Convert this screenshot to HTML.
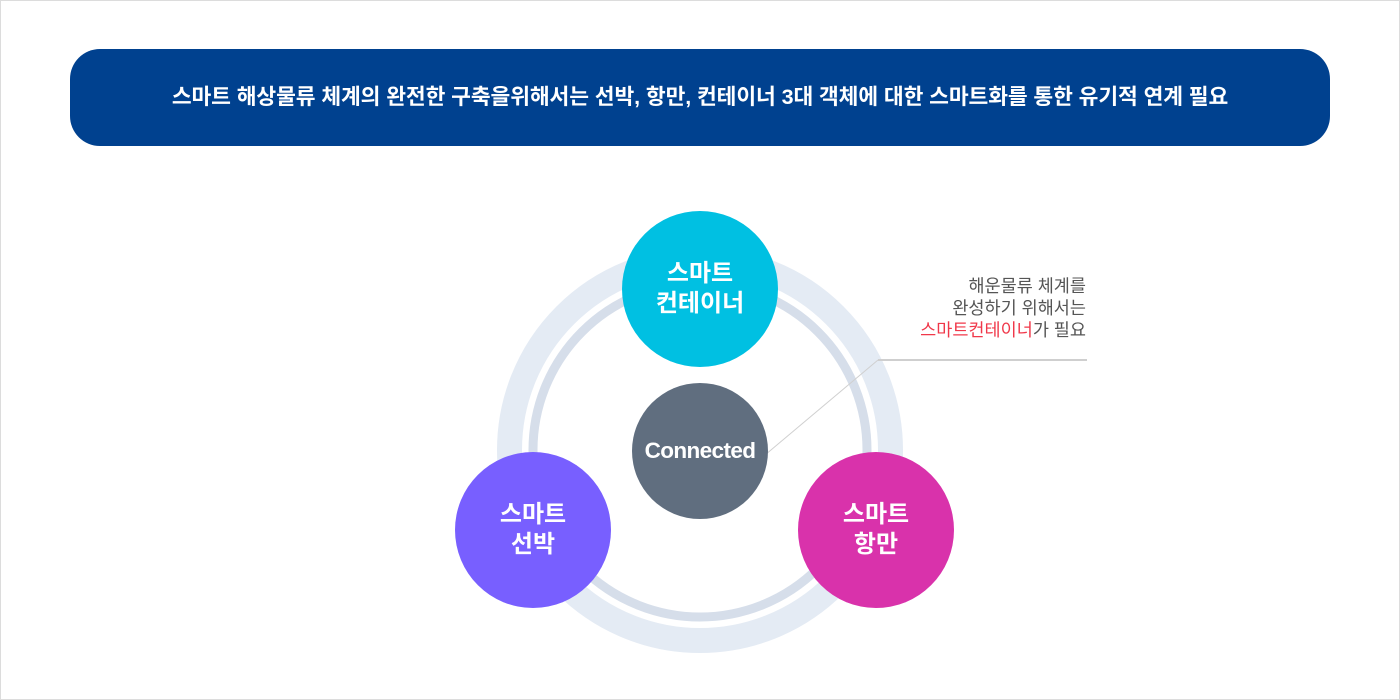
<!DOCTYPE html>
<html><head><meta charset="utf-8"><style>
html,body{margin:0;padding:0}
body{width:1400px;height:700px;position:relative;background:#fff;font-family:"Liberation Sans","Noto Sans CJK KR",sans-serif;overflow:hidden}
.frame{position:absolute;left:0;top:0;width:1398px;height:698px;border:1px solid #dcdcdc}
.banner{position:absolute;left:70px;top:49px;width:1260px;height:97px;background:#00418f;border-radius:30px;color:#fff;font-weight:bold;font-size:21.5px;text-align:center;line-height:97px;letter-spacing:-0.1px}
.c{position:absolute;border-radius:50%;color:#fff;font-weight:bold;display:flex;align-items:center;justify-content:center;text-align:center;font-size:24px;line-height:30px}
.note{position:absolute;right:314px;top:275px;text-align:right;font-size:17.5px;line-height:22px;color:#555;letter-spacing:0px}
</style></head><body>
<div class="frame"></div>
<div class="banner">스마트 해상물류 체계의 완전한 구축을위해서는 선박, 항만, 컨테이너 3대 객체에 대한 스마트화를 통한 유기적 연계 필요</div>
<svg width="1400" height="700" style="position:absolute;left:0;top:0">
<circle cx="700" cy="450" r="190.5" fill="none" stroke="#e4ebf4" stroke-width="25"/>
<circle cx="700" cy="450" r="167" fill="none" stroke="#d6deea" stroke-width="9"/>
<line x1="878" y1="360" x2="1087" y2="360" stroke="#cfcfcf" stroke-width="2"/>
<line x1="878" y1="360" x2="765" y2="455" stroke="#d0d0d0" stroke-width="1"/>
</svg>
<div class="c" style="left:622px;top:211px;width:156px;height:156px;background:#00c0e2">스마트<br>컨테이너</div>
<div class="c" style="left:455px;top:452px;width:156px;height:156px;background:#785fff">스마트<br>선박</div>
<div class="c" style="left:798px;top:452px;width:156px;height:156px;background:#d932ab">스마트<br>항만</div>
<div class="c" style="left:632px;top:383px;width:136px;height:136px;background:#606e7f;font-size:22.5px;letter-spacing:-0.6px">Connected</div>
<div class="note">해운물류 체계를<br>완성하기 위해서는<br><span style="color:#f0384a">스마트컨테이너</span>가 필요</div>
</body></html>
